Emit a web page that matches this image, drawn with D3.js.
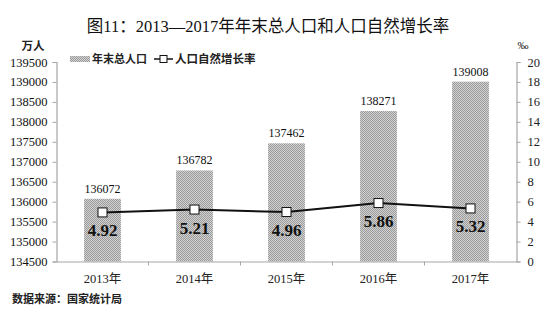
<!DOCTYPE html>
<html><head><meta charset="utf-8">
<script src="https://cdn.jsdelivr.net/npm/d3@7"></script>
<style>
body{margin:0;background:#fff;}
svg{display:block;}
</style></head>
<body>
<svg id="c" width="551" height="325"></svg>
<script>
const categories = ["2013年","2014年","2015年","2016年","2017年"];
const population = [136072,136782,137462,138271,139008];
const growthRate = [4.92,5.21,4.96,5.86,5.32];
const leftTicks = [134500,135000,135500,136000,136500,137000,137500,138000,138500,139000,139500];
const rightTicks = [0,2,4,6,8,10,12,14,16,18,20];

const svg = d3.select("#c");
const serifCJK = "'Liberation Serif','Noto Sans CJK SC',serif";
const sansCJK = "'Noto Sans CJK SC','Noto Sans',sans-serif";
const L = 56.5, R = 516.5, T = 62, B = 261.5;

const defs = svg.append("defs");
const pat = defs.append("pattern").attr("id","dots").attr("width",2).attr("height",2).attr("patternUnits","userSpaceOnUse");
pat.append("rect").attr("width",2).attr("height",2).attr("fill","#d2d2d2");
pat.append("rect").attr("width",1).attr("height",1).attr("fill","#9a9a9a");
pat.append("rect").attr("x",1).attr("y",1).attr("width",1).attr("height",1).attr("fill","#9a9a9a");

const x = d3.scaleBand().domain(categories).range([L,R]).paddingInner(0.6).paddingOuter(0.3);
const xb = d3.scaleBand().domain(categories).range([L,R]);
const yL = d3.scaleLinear().domain([134500,139500]).range([B,T]);
const yR = d3.scaleLinear().domain([0,20]).range([B,T]);

// title
svg.append("text").attr("x",268).attr("y",32).attr("text-anchor","middle")
  .attr("font-family",serifCJK).attr("font-size",16.5).attr("fill","#111")
  .text("图11：2013—2017年年末总人口和人口自然增长率");

svg.append("text").attr("x",33).attr("y",50).attr("text-anchor","middle")
  .attr("font-family",sansCJK).attr("font-weight","bold").attr("font-size",11.5).attr("fill","#222").text("万人");
svg.append("text").attr("x",523).attr("y",49).attr("text-anchor","middle")
  .attr("font-family",serifCJK).attr("font-size",11).attr("fill","#222").text("‰");

// bars
svg.selectAll("rect.bar").data(population).join("rect").attr("class","bar")
  .attr("x",(d,i)=>x(categories[i])).attr("width",x.bandwidth())
  .attr("y",d=>yL(d)).attr("height",d=>B-yL(d)).attr("fill","url(#dots)");

svg.selectAll("text.bv").data(population).join("text").attr("class","bv")
  .attr("x",(d,i)=>x(categories[i])+x.bandwidth()/2).attr("y",d=>yL(d)-6)
  .attr("text-anchor","middle").attr("font-family",serifCJK).attr("font-size",12).attr("fill","#111")
  .text(d=>d);

// axes
const gL = svg.append("g").attr("transform",`translate(${L},0)`)
  .call(d3.axisLeft(yL).tickValues(leftTicks).tickSize(4).tickPadding(5).tickFormat(d3.format("d")));
const gR = svg.append("g").attr("transform",`translate(${R},0)`)
  .call(d3.axisRight(yR).tickValues(rightTicks).tickSize(4).tickPadding(7).tickFormat(d3.format("d")));
const gB = svg.append("g").attr("transform",`translate(0,${B})`)
  .call(d3.axisBottom(xb).tickSize(0).tickPadding(13));
[gL,gR,gB].forEach(g=>{
  g.select(".domain").attr("stroke","#a6a6a6").attr("stroke-width",1.2);
  g.selectAll(".tick line").attr("stroke","#a6a6a6");
  g.selectAll("text").attr("font-family",serifCJK).attr("fill","#222");
});
gL.selectAll("text").attr("font-size",12.5).attr("fill","#111");
gR.selectAll("text").attr("font-size",12.5);
gB.selectAll("text").attr("font-size",12.5);
// category boundary ticks
const bounds = categories.slice(1).map(c=>xb(c));
svg.selectAll("line.bt").data(bounds).join("line").attr("class","bt")
  .attr("x1",d=>d).attr("x2",d=>d).attr("y1",B).attr("y2",B+4).attr("stroke","#a6a6a6");

// line
const cx = (i)=>xb(categories[i])+xb.bandwidth()/2;
const line = d3.line().x((d,i)=>cx(i)).y(d=>yR(d));
svg.append("path").datum(growthRate).attr("d",line).attr("fill","none").attr("stroke","#111").attr("stroke-width",2);
svg.selectAll("rect.mk").data(growthRate).join("rect").attr("class","mk")
  .attr("x",(d,i)=>cx(i)-4.5).attr("y",d=>yR(d)-4.5).attr("width",9).attr("height",9)
  .attr("fill","#fff").attr("stroke","#111").attr("stroke-width",1);
svg.selectAll("text.rv").data(growthRate).join("text").attr("class","rv")
  .attr("x",(d,i)=>cx(i)).attr("y",d=>yR(d)+24)
  .attr("text-anchor","middle").attr("font-family",serifCJK).attr("font-weight","bold").attr("font-size",17).attr("fill","#111")
  .text(d=>d.toFixed(2));

// legend
const lg = svg.append("g");
lg.append("rect").attr("x",70).attr("y",56).attr("width",20).attr("height",6).attr("fill","url(#dots)");
lg.append("text").attr("x",92).attr("y",63).attr("font-family",sansCJK).attr("font-weight","bold").attr("font-size",11).attr("fill","#222").text("年末总人口");
lg.append("line").attr("x1",154).attr("x2",173).attr("y1",59).attr("y2",59).attr("stroke","#111").attr("stroke-width",1.5);
lg.append("rect").attr("x",160).attr("y",55.5).attr("width",7).attr("height",7).attr("fill","#fff").attr("stroke","#111");
lg.append("text").attr("x",175).attr("y",63).attr("font-family",sansCJK).attr("font-weight","bold").attr("font-size",11.5).attr("fill","#222").text("人口自然增长率");

// footer
svg.append("text").attr("x",12).attr("y",303).attr("font-family",sansCJK).attr("font-weight","bold").attr("font-size",11).attr("fill","#222").text("数据来源：国家统计局");
</script>
</body></html>
